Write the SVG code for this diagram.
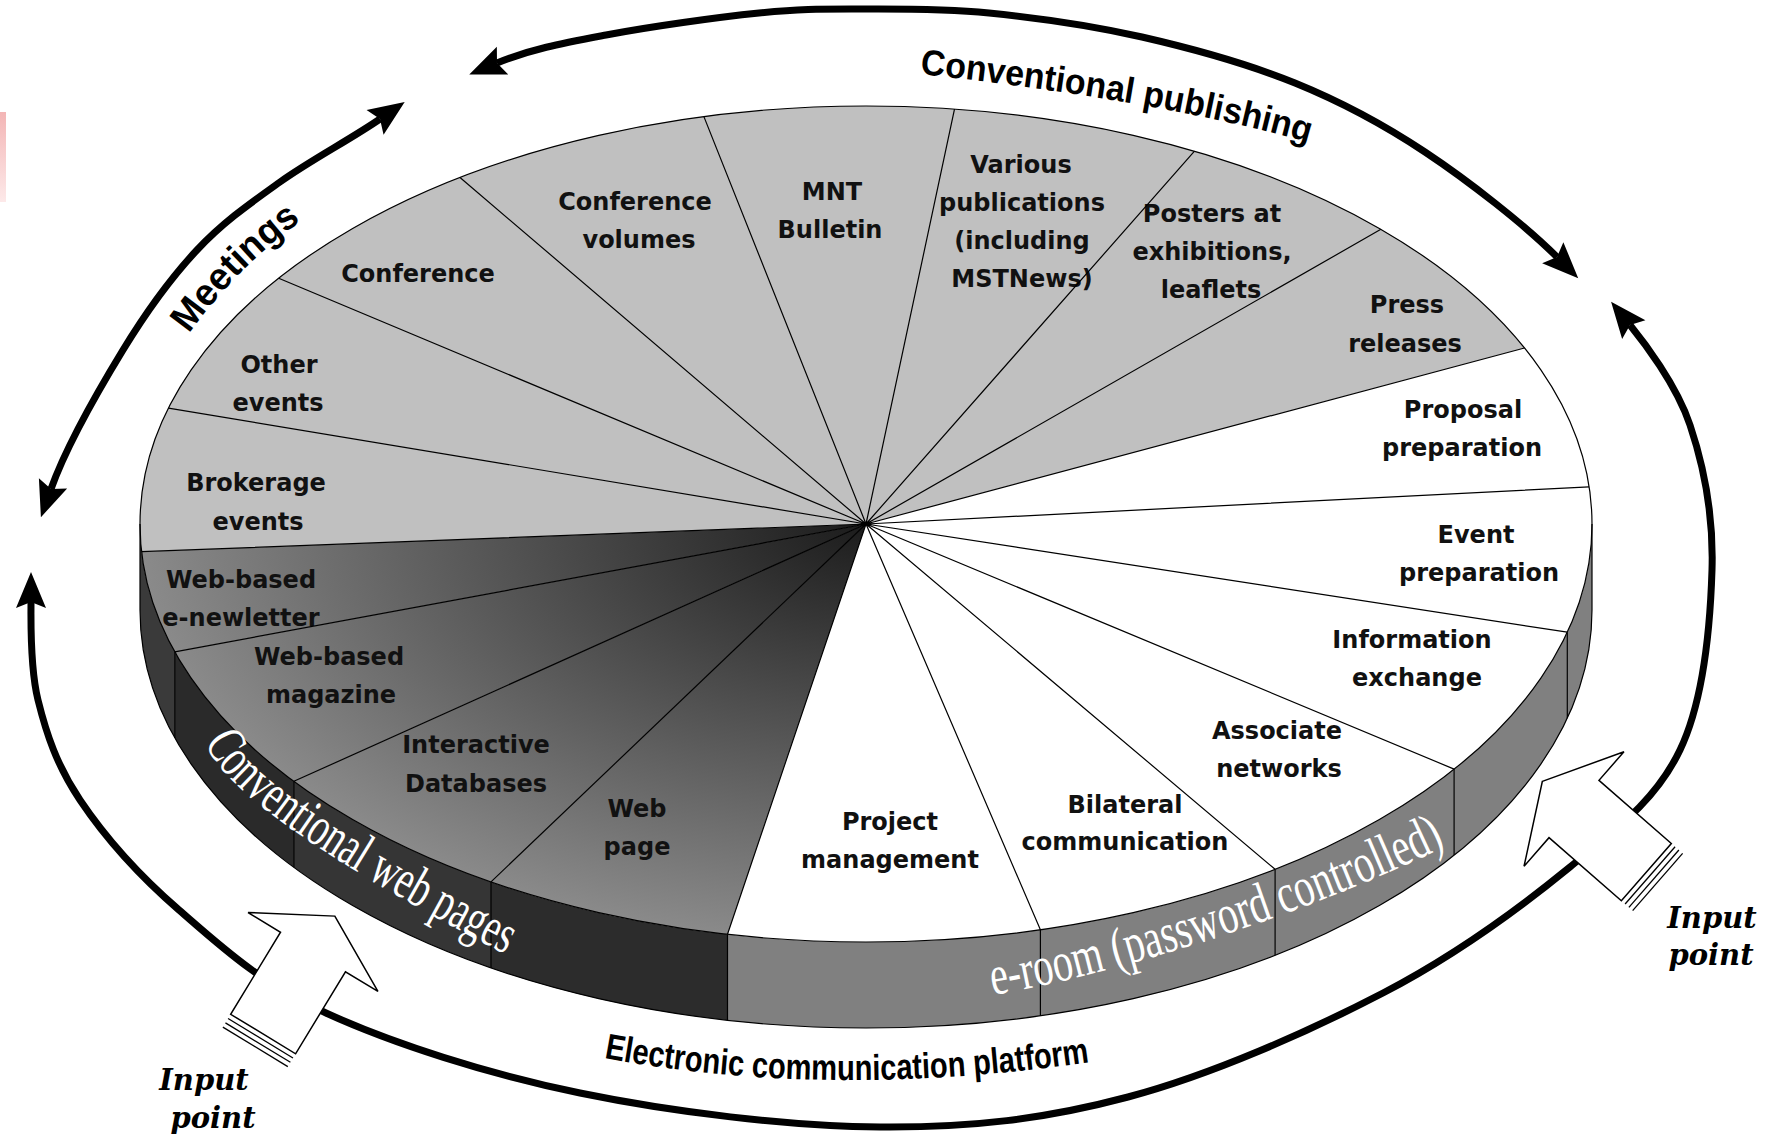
<svg xmlns="http://www.w3.org/2000/svg" width="1769" height="1135" viewBox="0 0 1769 1135">
<defs>
<style>
.ring{fill:none;stroke:#000;stroke-width:7;marker-start:url(#ah);marker-end:url(#ah)}
.gray{fill:#c0c0c0}
.white{fill:#fff}
.dark{fill:url(#darkTop)}
.sideGray{fill:#808080}
.line{fill:none;stroke:#000;stroke-width:1.2;stroke-linejoin:round}
.lbl{font-family:"DejaVu Sans",Verdana,sans-serif;font-weight:bold;font-size:24px;fill:#111;text-anchor:middle}
.band{font-family:"Liberation Serif","Times New Roman",serif;font-size:56px;fill:#fff}
.rlbl{font-family:"Liberation Sans",Arial,sans-serif;font-weight:bold;fill:#000}
.inp{font-family:"DejaVu Serif",serif;font-weight:bold;font-style:italic;font-size:29px;fill:#000;text-anchor:middle}
.blk{fill:#fff;stroke:#000;stroke-width:1.5}
.stripe{stroke:#000;stroke-width:1.3}
</style>
<marker id="ah" viewBox="-7 -16 40 32" refX="0" refY="0" markerWidth="40" markerHeight="32" markerUnits="userSpaceOnUse" orient="auto-start-reverse">
<path d="M-6,-15 L30,0 L-6,15 L0,0 Z" fill="#000"/>
</marker>
<radialGradient id="darkTop" gradientUnits="userSpaceOnUse" cx="866" cy="524" r="726" gradientTransform="translate(0 222.3) scale(1 0.5758)">
<stop offset="0" stop-color="#1c1c1c"/>
<stop offset="1" stop-color="#8a8a8a"/>
</radialGradient>
<linearGradient id="pink" x1="0" y1="0" x2="0" y2="1">
<stop offset="0" stop-color="#f3b5b5"/>
<stop offset="1" stop-color="#fde9e9"/>
</linearGradient>
<path id="tpMeet" d="M189,334 Q240,262 314,212"/>
<path id="tpPub" d="M920,74 C1030,86 1190,108 1310,143"/>
<path id="tpElec" d="M604,1058 Q830,1100 1090,1062"/>
<path id="tpWeb" d="M205,742 C225,800 380,890 520,962"/>
<path id="tpRoom" d="M993,995 C1090,980 1300,920 1462,838"/>
<g id="inArrow">
<polygon class="blk" points="42,0 0,76 0,38 -96,38 -96,-38 0,-38 0,-76"/>
<line class="stripe" x1="-101" y1="-38" x2="-101" y2="38"/>
<line class="stripe" x1="-106" y1="-38" x2="-106" y2="38"/>
<line class="stripe" x1="-111" y1="-38" x2="-111" y2="38"/>
</g>
</defs>

<rect x="0" y="112" width="6" height="90" fill="url(#pink)"/>

<g id="connectors">
<path id="arc-publishing" class="ring" d="M497,63 C531,49 562.3,43.3 606,35 C649.7,26.7 716.7,17.3 759,13 C801.3,8.7 821.7,9 860,9 C898.3,9 942,8.3 989,13 C1036,17.7 1091,25.3 1142,37 C1193,48.7 1247.8,63.8 1295,83 C1342.2,102.2 1381.3,123 1425,152 C1468.7,181 1525,225 1557,257"/>
<path id="arc-meetings" class="ring" d="M380,119 C351,139 310.5,160.2 280,182 C249.5,203.8 223.2,222 197,250 C170.8,278 147.3,310.2 123,350 C98.7,389.8 66,447 51,489"/>
<path id="arc-electronic" class="ring" d="M31,602 C31,620 29.8,667 38,700 C46.2,733 56.5,765 80,800 C103.5,835 138,874.5 179,910 C220,945.5 259.2,982.5 326,1013 C392.8,1043.5 487.7,1074 580,1093 C672.3,1112 788.7,1126.3 880,1127 C971.3,1127.7 1044.2,1119.3 1128,1097 C1211.8,1074.7 1309.3,1031.3 1383,993 C1456.7,954.7 1520.5,907.5 1570,867 C1619.5,826.5 1656.3,799.5 1680,750 C1703.7,700.5 1710.3,624.2 1712,570 C1713.7,515.8 1703.7,465.8 1690,425 C1676.3,384.2 1643,341 1630,325"/>
</g>

<g id="pie-faces">
<path id="side-event-preparation" class="sideGray" d="M1592,524 A726,418 0 0 1 1567.3,632.2 L1567.3,718.2 A726,418 0 0 0 1592,610 Z"/>
<path id="side-information-exchange" class="sideGray" d="M1567.3,632.2 A726,418 0 0 1 1454.1,769.1 L1454.1,855.1 A726,418 0 0 0 1567.3,718.2 Z"/>
<path id="side-associate-networks" class="sideGray" d="M1454.1,769.1 A726,418 0 0 1 1275.1,869.3 L1275.1,955.3 A726,418 0 0 0 1454.1,855.1 Z"/>
<path id="side-bilateral-communication" class="sideGray" d="M1275.1,869.3 A726,418 0 0 1 1040.4,929.8 L1040.4,1015.8 A726,418 0 0 0 1275.1,955.3 Z"/>
<path id="side-project-management" class="sideGray" d="M1040.4,929.8 A726,418 0 0 1 727.5,934.3 L727.5,1020.3 A726,418 0 0 0 1040.4,1015.8 Z"/>
<path id="side-web-page" fill="#2c2c2c" d="M727.5,934.3 A726,418 0 0 1 491,881.9 L491,967.9 A726,418 0 0 0 727.5,1020.3 Z"/>
<path id="side-interactive-databases" fill="#353535" d="M491,881.9 A726,418 0 0 1 293.9,781.3 L293.9,867.3 A726,418 0 0 0 491,967.9 Z"/>
<path id="side-web-based-magazine" fill="#2a2a2a" d="M293.9,781.3 A726,418 0 0 1 174.8,651.8 L174.8,737.8 A726,418 0 0 0 293.9,867.3 Z"/>
<path id="side-web-based-e-newletter" fill="#3a3a3a" d="M174.8,651.8 A726,418 0 0 1 140,524 L140,610 A726,418 0 0 0 174.8,737.8 Z"/>
<path id="face-event-preparation" class="white" d="M866,524 L1589.1,486.8 A726,418 0 0 1 1567.3,632.2 Z"/>
<path id="face-information-exchange" class="white" d="M866,524 L1567.3,632.2 A726,418 0 0 1 1454.1,769.1 Z"/>
<path id="face-associate-networks" class="white" d="M866,524 L1454.1,769.1 A726,418 0 0 1 1275.1,869.3 Z"/>
<path id="face-bilateral-communication" class="white" d="M866,524 L1275.1,869.3 A726,418 0 0 1 1040.4,929.8 Z"/>
<path id="face-project-management" class="white" d="M866,524 L1040.4,929.8 A726,418 0 0 1 727.5,934.3 Z"/>
<path id="face-web-page" class="dark" d="M866,524 L727.5,934.3 A726,418 0 0 1 491,881.9 Z"/>
<path id="face-interactive-databases" class="dark" d="M866,524 L491,881.9 A726,418 0 0 1 293.9,781.3 Z"/>
<path id="face-web-based-magazine" class="dark" d="M866,524 L293.9,781.3 A726,418 0 0 1 174.8,651.8 Z"/>
<path id="face-web-based-e-newletter" class="dark" d="M866,524 L174.8,651.8 A726,418 0 0 1 141.6,551.7 Z"/>
<path id="face-brokerage-events" class="gray" d="M866,524 L141.6,551.7 A726,418 0 0 1 168.5,408.1 Z"/>
<path id="face-other-events" class="gray" d="M866,524 L168.5,408.1 A726,418 0 0 1 278.7,278.3 Z"/>
<path id="face-conference" class="gray" d="M866,524 L278.7,278.3 A726,418 0 0 1 460,177.5 Z"/>
<path id="face-conference-volumes" class="gray" d="M866,524 L460,177.5 A726,418 0 0 1 703.9,116.6 Z"/>
<path id="face-mnt-bulletin" class="gray" d="M866,524 L703.9,116.6 A726,418 0 0 1 954.5,109.1 Z"/>
<path id="face-various-publications" class="gray" d="M866,524 L954.5,109.1 A726,418 0 0 1 1194.5,151.2 Z"/>
<path id="face-posters" class="gray" d="M866,524 L1194.5,151.2 A726,418 0 0 1 1380.9,229.3 Z"/>
<path id="face-press-releases" class="gray" d="M866,524 L1380.9,229.3 A726,418 0 0 1 1524.5,348 Z"/>
<path id="face-proposal-preparation" class="white" d="M866,524 L1524.5,348 A726,418 0 0 1 1589.1,486.8 Z"/>
</g>

<g id="event-preparation"><text class="lbl" x="1476" y="543">Event</text><text class="lbl" x="1479" y="581">preparation</text></g>
<g id="information-exchange"><text class="lbl" x="1412" y="648">Information</text><text class="lbl" x="1417" y="686">exchange</text></g>
<g id="associate-networks"><text class="lbl" x="1277" y="739">Associate</text><text class="lbl" x="1279" y="777">networks</text></g>
<g id="bilateral-communication"><text class="lbl" x="1125" y="813">Bilateral</text><text class="lbl" x="1125" y="850">communication</text></g>
<g id="project-management"><text class="lbl" x="890" y="830">Project</text><text class="lbl" x="890" y="868">management</text></g>
<g id="web-page"><text class="lbl" x="637" y="817">Web</text><text class="lbl" x="637" y="855">page</text></g>
<g id="interactive-databases"><text class="lbl" x="476" y="753">Interactive</text><text class="lbl" x="476" y="792">Databases</text></g>
<g id="web-based-magazine"><text class="lbl" x="329" y="665">Web-based</text><text class="lbl" x="331" y="703">magazine</text></g>
<g id="web-based-e-newletter"><text class="lbl" x="241" y="588">Web-based</text><text class="lbl" x="241" y="626">e-newletter</text></g>
<g id="brokerage-events"><text class="lbl" x="256" y="491">Brokerage</text><text class="lbl" x="258" y="530">events</text></g>
<g id="other-events"><text class="lbl" x="279" y="373">Other</text><text class="lbl" x="278" y="411">events</text></g>
<g id="conference"><text class="lbl" x="418" y="282">Conference</text></g>
<g id="conference-volumes"><text class="lbl" x="635" y="210">Conference</text><text class="lbl" x="639" y="248">volumes</text></g>
<g id="mnt-bulletin"><text class="lbl" x="832" y="200">MNT</text><text class="lbl" x="830" y="238">Bulletin</text></g>
<g id="various-publications"><text class="lbl" x="1021" y="173">Various</text><text class="lbl" x="1022" y="211">publications</text><text class="lbl" x="1022" y="249">(including</text><text class="lbl" x="1022" y="287">MSTNews)</text></g>
<g id="posters"><text class="lbl" x="1212" y="222">Posters at</text><text class="lbl" x="1212" y="260">exhibitions,</text><text class="lbl" x="1211" y="298">leaflets</text></g>
<g id="press-releases"><text class="lbl" x="1407" y="313">Press</text><text class="lbl" x="1405" y="352">releases</text></g>
<g id="proposal-preparation"><text class="lbl" x="1463" y="418">Proposal</text><text class="lbl" x="1462" y="456">preparation</text></g>

<g id="pie-lines">
<path class="line" d="M866,524 L1589.1,486.8 M866,524 L1567.3,632.2 M866,524 L1454.1,769.1 M866,524 L1275.1,869.3 M866,524 L1040.4,929.8 M866,524 L727.5,934.3 M866,524 L491,881.9 M866,524 L293.9,781.3 M866,524 L174.8,651.8 M866,524 L141.6,551.7 M866,524 L168.5,408.1 M866,524 L278.7,278.3 M866,524 L460,177.5 M866,524 L703.9,116.6 M866,524 L954.5,109.1 M866,524 L1194.5,151.2 M866,524 L1380.9,229.3 M866,524 L1524.5,348"/>
<path class="line" d="M1567.3,632.2 V718.2 M1454.1,769.1 V855.1 M1275.1,869.3 V955.3 M1040.4,929.8 V1015.8 M727.5,934.3 V1020.3 M491,881.9 V967.9 M293.9,781.3 V867.3 M174.8,651.8 V737.8 M1592,524 V610 M140,524 V610"/>
<ellipse class="line" cx="866" cy="524" rx="726" ry="418"/>
<path class="line" d="M1592,610 A726,418 0 0 1 140,610"/>
</g>

<g id="band-labels">
<text class="band"><textPath href="#tpWeb" textLength="372" lengthAdjust="spacingAndGlyphs">Conventional web pages</textPath></text>
<text class="band"><textPath href="#tpRoom" textLength="478" lengthAdjust="spacingAndGlyphs">e-room (password controlled)</textPath></text>
</g>

<g id="input-left">
<use href="#inArrow" transform="translate(313,952) rotate(-58.7)"/>
<text class="inp" x="204" y="1090">Input</text>
<text class="inp" x="213" y="1128">point</text>
</g>
<g id="input-right">
<use href="#inArrow" transform="translate(1574,809) rotate(-138.9)"/>
<text class="inp" x="1712" y="928">Input</text>
<text class="inp" x="1711" y="965">point</text>
</g>

<g id="ring-labels">
<text class="rlbl" font-size="38"><textPath href="#tpMeet" textLength="160" lengthAdjust="spacingAndGlyphs">Meetings</textPath></text>
<text class="rlbl" font-size="36"><textPath href="#tpPub" textLength="395" lengthAdjust="spacingAndGlyphs">Conventional publishing</textPath></text>
<text class="rlbl" font-size="36"><textPath href="#tpElec" textLength="488" lengthAdjust="spacingAndGlyphs">Electronic communication platform</textPath></text>
</g>
</svg>
